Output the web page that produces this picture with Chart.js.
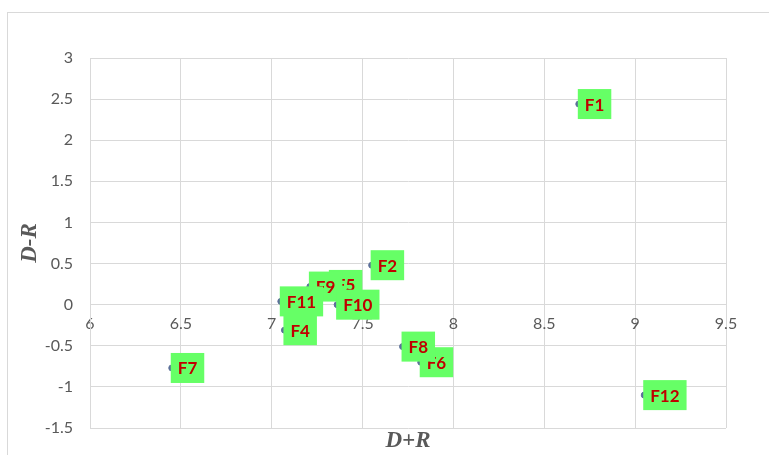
<!DOCTYPE html>
<html>
<head>
<meta charset="utf-8">
<script src="https://cdn.jsdelivr.net/npm/chart.js@4"></script>
<style>
  html, body { margin: 0; padding: 0; background: #fff; }
  #wrap { position: relative; width: 769px; height: 455px; overflow: hidden; }
  #frame { position: absolute; left: 7px; top: 12px; width: 900px; height: 600px; border: 1px solid #d9d9d9; }
  canvas { position: absolute; left: 0; top: 0; }
</style>
</head>
<body>
<div id="wrap">
  <div id="frame"></div>
  <canvas id="chart" width="769" height="455"></canvas>
</div>
<script>
// factor labels and their (D+R, D-R) values
const labels = ["F1", "F2", "F4", "F5", "F6", "F7", "F8", "F9", "F10", "F11", "F12"];
const dPlusR = [8.69, 7.55, 7.07, 7.32, 7.82, 6.45, 7.72, 7.21, 7.36, 7.05, 9.05];
const dMinusR = [2.44, 0.48, -0.31, 0.24, -0.70, -0.77, -0.51, 0.22, 0.00, 0.04, -1.10];

const points = dPlusR.map((x, i) => ({ x: x, y: dMinusR[i] }));

const gridColor = "#d9d9d9";
const tickColor = "#595959";

// label boxes drawn to the right of each marker
const boxLabels = {
  id: "boxLabels",
  afterDatasetsDraw(chart) {
    const ctx = chart.ctx;
    const meta = chart.getDatasetMeta(0);
    ctx.save();
    ctx.font = "bold 17px Lato";
    ctx.textBaseline = "middle";
    meta.data.forEach((pt, i) => {
      const w = ctx.measureText(labels[i]).width + 14;
      const h = 30;
      const left = pt.x - 1;
      ctx.fillStyle = "#66ff66";
      ctx.fillRect(left, pt.y - h / 2, w, h);
      ctx.fillStyle = "#c00000";
      ctx.textAlign = "center";
      ctx.fillText(labels[i], left + w / 2, pt.y + 1);
    });
    ctx.restore();
  }
};

// axis titles (x axis sits at y = 0, so its title is placed at the bottom)
const axisTitles = {
  id: "axisTitles",
  afterDraw(chart) {
    const ctx = chart.ctx;
    const area = chart.chartArea;
    ctx.save();
    ctx.fillStyle = tickColor;
    ctx.font = "italic bold 23px 'Liberation Serif'";
    ctx.textAlign = "center";
    ctx.textBaseline = "middle";
    ctx.fillText("D+R", (area.left + area.right) / 2, 441);
    ctx.translate(30, (area.top + area.bottom) / 2);
    ctx.rotate(-Math.PI / 2);
    ctx.fillText("D-R", 0, 0);
    ctx.restore();
  }
};

const tickFont = { family: "Lato", size: 16 };
const plainNumber = v => String(Math.round(v * 10) / 10);

new Chart(document.getElementById("chart"), {
  type: "scatter",
  data: {
    datasets: [{
      data: points,
      pointRadius: 3,
      pointBackgroundColor: "#5b6f99",
      pointBorderColor: "#5b6f99"
    }]
  },
  options: {
    responsive: false,
    animation: false,
    layout: { padding: { left: 0, top: 58, right: 43, bottom: 27 } },
    plugins: { legend: { display: false }, tooltip: { enabled: false } },
    scales: {
      x: {
        type: "linear",
        position: { y: 0 },
        min: 6,
        max: 9.5,
        ticks: { stepSize: 0.5, color: tickColor, font: tickFont, padding: 10, callback: plainNumber },
        grid: { color: gridColor, drawTicks: false },
        border: { color: gridColor }
      },
      y: {
        type: "linear",
        position: "left",
        min: -1.5,
        max: 3,
        afterFit(scale) { scale.width = 90; },
        ticks: { stepSize: 0.5, color: tickColor, font: tickFont, padding: 17, callback: plainNumber },
        grid: { color: gridColor, drawTicks: false },
        border: { color: gridColor }
      }
    }
  },
  plugins: [boxLabels, axisTitles]
});
</script>
</body>
</html>
